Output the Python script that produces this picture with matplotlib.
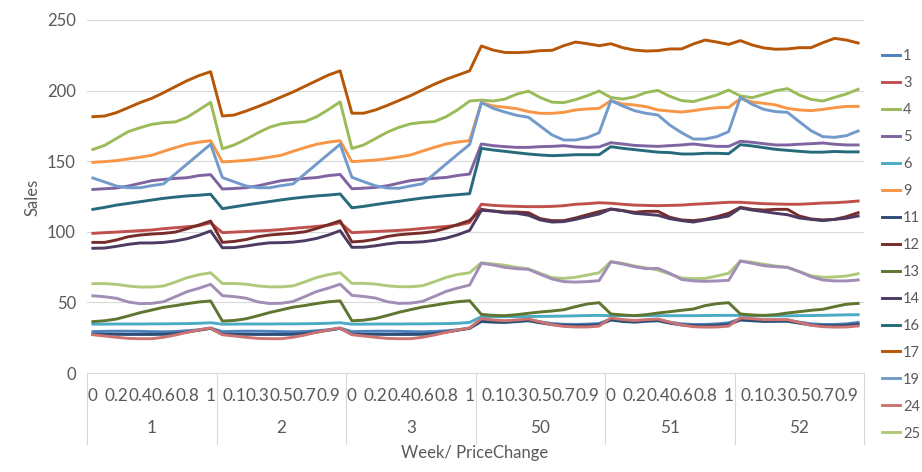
import numpy as np
import matplotlib
matplotlib.use("Agg")
import matplotlib.pyplot as plt
import matplotlib.transforms as mtransforms

plt.rcParams['font.family'] = ['Lato', 'DejaVu Sans']

weeks = ["1", "2", "3", "50", "51", "52"]
price_changes = ["0", "0.1", "0.2", "0.3", "0.4", "0.5", "0.6", "0.7", "0.8", "0.9", "1"]

s1 = [29.3, 29.5, 29.6, 29.6, 29.5, 29.3, 29.2, 29.4, 29.9, 30.6, 31.8,
      29.3, 29.5, 29.6, 29.6, 29.5, 29.3, 29.2, 29.4, 29.9, 30.6, 31.8,
      29.3, 29.5, 29.6, 29.6, 29.5, 29.3, 29.2, 29.4, 29.9, 30.6, 31.8,
      37.8, 37.0, 36.6, 37.2, 37.8, 36.2, 35.0, 34.5, 34.4, 34.6, 35.0,
      38.3, 37.2, 36.8, 37.4, 37.8, 36.0, 34.8, 34.4, 34.4, 34.8, 35.5,
      38.3, 37.8, 37.2, 37.4, 37.4, 36.0, 34.8, 34.4, 34.4, 34.8, 35.8]
s3 = [98.9, 99.4, 99.8, 100.3, 100.8, 101.3, 102.2, 102.9, 103.6, 104.3, 106.4,
      99.4, 99.8, 100.2, 100.6, 101.0, 101.6, 102.4, 103.1, 103.8, 104.6, 106.5,
      99.4, 99.8, 100.2, 100.6, 101.0, 101.6, 102.4, 103.1, 103.8, 104.6, 106.5,
      119.5, 118.7, 118.3, 118.0, 117.8, 117.8, 118.0, 118.5, 119.5, 119.9, 120.6,
      120.2, 119.5, 118.9, 118.7, 118.5, 118.7, 118.9, 119.5, 119.9, 120.4, 120.9,
      120.9, 120.4, 119.9, 119.7, 119.5, 119.5, 119.9, 120.4, 120.6, 121.1, 121.8]
s4 = [158.3, 161.2, 166.1, 170.9, 173.7, 176.1, 177.3, 177.8, 181.1, 186.3, 191.7,
      158.8, 161.5, 165.5, 170.0, 174.0, 176.5, 177.5, 178.0, 181.5, 186.5, 192.0,
      159.0, 161.5, 166.0, 170.5, 174.0, 176.5, 177.5, 178.0, 181.5, 186.5, 192.6,
      193.3, 192.6, 194.0, 197.5, 199.6, 195.1, 191.8, 191.5, 193.6, 196.4, 199.7,
      195.1, 194.0, 195.6, 198.7, 200.1, 196.0, 192.9, 192.2, 194.5, 196.9, 200.4,
      196.2, 195.0, 197.4, 199.9, 201.4, 196.9, 193.8, 192.6, 195.2, 197.6, 200.9]
s5 = [130.0, 130.5, 131.0, 132.4, 134.3, 136.2, 137.1, 137.8, 138.3, 139.8, 140.5,
      130.3, 130.7, 131.2, 132.5, 134.4, 136.2, 137.1, 137.8, 138.4, 139.8, 140.6,
      130.5, 130.9, 131.4, 132.6, 134.5, 136.3, 137.2, 137.9, 138.5, 139.9, 140.9,
      162.2, 161.0, 160.3, 159.8, 159.8, 160.3, 160.5, 161.0, 160.1, 159.8, 160.1,
      163.1, 162.2, 161.2, 160.8, 160.5, 161.0, 161.5, 162.2, 161.2, 160.5, 160.5,
      164.1, 163.4, 162.4, 161.5, 161.5, 162.0, 162.4, 162.9, 162.0, 161.5, 161.5]
s6 = [34.6, 34.6, 34.7, 34.7, 34.7, 34.8, 34.8, 34.9, 35.0, 35.2, 35.6,
      34.6, 34.6, 34.7, 34.7, 34.7, 34.8, 34.8, 34.9, 35.0, 35.2, 35.6,
      34.6, 34.6, 34.7, 34.7, 34.7, 34.8, 34.8, 34.9, 35.0, 35.2, 35.8,
      39.9, 39.9, 39.9, 40.0, 40.0, 40.1, 40.2, 40.3, 40.5, 40.7, 40.8,
      40.6, 40.6, 40.6, 40.6, 40.6, 40.6, 40.6, 40.6, 40.7, 40.8, 40.8,
      40.8, 40.6, 40.5, 40.5, 40.5, 40.6, 40.7, 40.8, 41.0, 41.2, 41.3]
s9 = [149.2, 149.7, 150.4, 151.6, 152.8, 154.2, 157.0, 159.6, 162.0, 163.5, 164.5,
      149.5, 150.0, 150.6, 151.6, 152.8, 154.2, 157.0, 159.6, 162.0, 163.5, 164.5,
      149.7, 150.2, 150.8, 151.8, 153.0, 154.4, 157.2, 159.8, 162.2, 163.6, 164.6,
      191.5, 189.1, 188.2, 187.2, 185.1, 183.9, 183.9, 184.6, 186.3, 187.0, 187.4,
      192.9, 190.5, 189.8, 188.6, 186.3, 185.5, 184.8, 185.8, 187.0, 187.9, 188.1,
      194.3, 191.9, 191.0, 189.8, 187.4, 186.3, 185.8, 186.7, 187.9, 188.8, 188.8]
s11 = [27.4, 27.4, 27.4, 27.3, 27.3, 27.3, 27.4, 27.9, 29.0, 30.3, 31.6,
       27.4, 27.4, 27.4, 27.3, 27.3, 27.3, 27.4, 27.9, 29.0, 30.3, 31.6,
       27.4, 27.4, 27.4, 27.3, 27.3, 27.3, 27.4, 27.9, 29.0, 30.3, 31.6,
       36.5, 36.0, 35.8, 36.4, 37.0, 35.5, 34.3, 33.8, 33.6, 33.8, 34.2,
       37.5, 36.5, 36.0, 36.6, 37.0, 35.3, 34.0, 33.6, 33.5, 33.8, 34.3,
       37.5, 37.0, 36.5, 36.6, 36.6, 35.3, 34.0, 33.6, 33.5, 33.8, 34.5]
s12 = [92.5, 92.5, 94.2, 96.5, 97.7, 98.4, 98.9, 99.8, 102.2, 104.8, 107.6,
       92.5, 93.2, 94.5, 96.5, 97.7, 98.4, 99.0, 100.0, 102.3, 105.0, 107.8,
       92.8, 93.4, 94.7, 96.7, 97.9, 98.6, 99.2, 100.2, 102.5, 105.2, 108.0,
       115.9, 114.7, 114.0, 114.0, 113.5, 109.3, 107.9, 107.9, 109.8, 112.1, 114.3,
       116.1, 115.0, 113.8, 114.5, 114.5, 110.3, 108.4, 107.9, 108.8, 110.7, 113.1,
       117.3, 115.9, 115.4, 115.9, 115.9, 111.2, 109.1, 108.4, 108.8, 110.7, 113.5]
s13 = [36.4, 37.0, 38.2, 40.4, 42.7, 44.6, 46.5, 47.7, 49.1, 50.3, 51.0,
       36.8, 37.2, 38.4, 40.5, 42.8, 44.7, 46.6, 47.8, 49.2, 50.4, 51.1,
       37.0, 37.4, 38.6, 40.7, 43.0, 44.9, 46.7, 48.0, 49.4, 50.5, 51.2,
       41.5, 40.8, 40.6, 41.3, 42.3, 43.2, 43.9, 44.8, 47.0, 48.9, 49.8,
       41.8, 41.1, 40.6, 41.3, 42.5, 43.4, 44.4, 45.3, 47.7, 49.1, 49.8,
       41.8, 41.1, 40.8, 41.3, 42.5, 43.4, 44.4, 45.1, 47.0, 48.7, 49.3]
s14 = [88.3, 88.5, 89.7, 91.1, 92.1, 92.1, 92.5, 93.5, 95.1, 97.5, 100.6,
       88.7, 88.8, 89.9, 91.2, 92.2, 92.3, 92.7, 93.7, 95.3, 97.7, 100.8,
       89.0, 89.1, 90.1, 91.4, 92.4, 92.5, 92.9, 93.9, 95.5, 97.9, 101.0,
       115.2, 114.7, 113.5, 113.1, 111.7, 108.4, 106.9, 107.2, 108.8, 110.7, 112.6,
       116.1, 115.0, 113.1, 112.4, 111.7, 109.3, 107.9, 106.9, 108.4, 109.6, 111.2,
       116.9, 115.4, 114.3, 113.1, 112.1, 109.8, 108.8, 107.9, 108.8, 109.6, 111.2]
s16 = [115.9, 117.3, 118.9, 120.1, 121.3, 122.5, 123.7, 124.6, 125.4, 125.9, 126.6,
       116.4, 117.7, 119.0, 120.2, 121.4, 122.6, 123.7, 124.6, 125.4, 126.0, 126.8,
       117.0, 118.0, 119.3, 120.5, 121.6, 122.8, 123.9, 124.8, 125.6, 126.3, 127.0,
       159.1, 157.9, 157.0, 156.0, 155.1, 154.4, 153.9, 154.2, 154.6, 154.6, 154.6,
       160.3, 159.1, 158.2, 157.3, 156.4, 156.1, 155.1, 155.1, 155.6, 155.6, 155.3,
       161.7, 160.8, 159.6, 158.4, 157.7, 157.0, 156.4, 156.4, 156.9, 156.6, 156.6]
s17 = [181.5, 182.0, 184.4, 187.9, 191.5, 194.5, 198.5, 202.8, 207.0, 210.6, 213.4,
       182.0, 182.7, 185.5, 188.6, 191.9, 195.5, 199.0, 203.0, 207.0, 211.0, 214.0,
       184.0, 184.0, 186.3, 189.5, 193.0, 196.5, 200.5, 204.5, 208.0, 211.0, 214.0,
       231.6, 228.7, 227.0, 226.9, 227.3, 228.3, 228.5, 231.8, 234.4, 233.2, 231.8,
       233.2, 230.4, 228.7, 228.0, 228.3, 229.5, 229.5, 233.0, 235.8, 234.4, 232.7,
       235.4, 232.3, 230.2, 229.3, 229.5, 230.4, 230.4, 233.9, 237.0, 235.8, 233.7]
s19 = [138.1, 135.3, 132.4, 131.2, 131.2, 132.7, 133.9, 141.0, 148.0, 155.0, 162.0,
       138.4, 135.4, 132.5, 131.2, 131.2, 132.7, 133.9, 141.0, 148.0, 155.0, 162.0,
       138.6, 135.5, 132.6, 131.0, 130.8, 132.5, 134.0, 141.0, 148.0, 155.0, 161.8,
       191.5, 187.4, 184.8, 182.5, 181.1, 174.9, 168.6, 165.0, 165.0, 166.7, 170.2,
       192.9, 189.1, 185.8, 183.9, 182.7, 175.6, 170.2, 165.7, 165.7, 167.4, 170.9,
       195.2, 190.3, 186.7, 185.1, 184.6, 178.0, 171.6, 167.4, 166.9, 168.1, 171.4]
s24 = [27.1, 26.2, 25.3, 24.5, 24.3, 24.3, 25.3, 26.9, 28.8, 30.5, 31.9,
       27.1, 26.2, 25.3, 24.5, 24.3, 24.3, 25.3, 26.9, 28.8, 30.5, 31.9,
       27.1, 26.2, 25.3, 24.5, 24.3, 24.3, 25.3, 26.9, 28.8, 30.5, 31.9,
       38.5, 37.6, 37.0, 37.6, 38.3, 36.2, 34.2, 33.0, 32.6, 32.6, 33.2,
       39.0, 37.8, 37.2, 37.8, 38.2, 36.0, 34.0, 32.8, 32.5, 32.6, 33.2,
       39.0, 38.5, 37.8, 37.8, 37.8, 35.8, 33.8, 32.8, 32.5, 32.6, 33.3]
s25 = [63.3, 63.3, 62.8, 61.6, 60.9, 60.9, 61.6, 64.4, 67.5, 69.6, 71.0,
       63.4, 63.4, 62.9, 61.7, 61.0, 61.0, 61.7, 64.5, 67.6, 69.7, 71.1,
       63.5, 63.5, 63.0, 61.8, 61.1, 61.1, 61.8, 64.6, 67.7, 69.8, 71.0,
       78.1, 77.2, 76.3, 74.8, 73.7, 70.6, 67.5, 67.0, 67.8, 69.4, 71.0,
       78.8, 77.7, 75.8, 74.4, 72.9, 70.1, 67.3, 66.8, 67.0, 68.7, 70.6,
       79.3, 78.4, 77.0, 75.8, 74.8, 71.8, 68.9, 67.8, 68.0, 68.7, 70.3]
# 16th series, drawn but not shown in the (truncated) legend
s_extra = [54.7, 54.0, 52.9, 50.3, 49.1, 49.3, 50.5, 54.0, 57.6, 60.0, 62.8,
           54.8, 54.1, 53.0, 50.4, 49.2, 49.4, 50.6, 54.1, 57.7, 60.1, 62.9,
           55.0, 54.2, 53.1, 50.5, 49.3, 49.5, 50.7, 54.2, 57.8, 60.2, 62.3,
           77.7, 76.5, 74.8, 73.9, 73.4, 69.9, 66.6, 64.7, 64.4, 64.7, 65.4,
           78.8, 77.2, 75.3, 73.9, 74.1, 70.6, 66.3, 65.2, 64.9, 65.2, 65.6,
           79.3, 77.7, 76.0, 75.3, 74.8, 71.8, 68.2, 65.9, 65.2, 65.2, 65.9]

series_names = ["1", "3", "4", "5", "6", "9", "11", "12", "13", "14", "16", "17", "19", "24", "25"]
series_values = [s1, s3, s4, s5, s6, s9, s11, s12, s13, s14, s16, s17, s19, s24, s25]
colors = ["#4F81BD", "#C0504D", "#9BBB59", "#8064A2", "#4BACC6", "#F79646",
          "#2C4D75", "#772C2A", "#5F7530", "#4D3B62", "#276A7C", "#B65708",
          "#729ACA", "#CD7371", "#AFC97A"]
extra_color = "#A18DB5"

n_pc = len(price_changes)
n = len(weeks) * n_pc
x = np.arange(n)

fig = plt.figure(figsize=(9.22, 4.72), dpi=100)
ax = fig.add_axes([87/922, 1 - 373/472, (864-87)/922, (373-20)/472])

handles = []
for name, vals, c in zip(series_names, series_values, colors):
    h, = ax.plot(x, vals, color=c, lw=2.1, label=name, solid_joinstyle='round')
    handles.append(h)
ax.plot(x, s_extra, color=extra_color, lw=2.1, label='_nolegend_', solid_joinstyle='round')

ax.set_xlim(-0.5, n - 0.5)
ax.set_ylim(0, 250)
ax.set_yticks(np.arange(0, 251, 50))
ax.yaxis.grid(True, color="#D9D9D9", lw=0.8)
ax.set_axisbelow(True)
for s in ["top", "right", "left"]:
    ax.spines[s].set_visible(False)
ax.spines["bottom"].set_color("#D9D9D9")
ax.tick_params(axis='y', length=0, labelsize=12, labelcolor="#595959", pad=8)
ax.tick_params(axis='x', length=0)
ax.set_xticks([])

# multi-level category axis
trans = mtransforms.blended_transform_factory(ax.transData, ax.transAxes)
ax_h = 353.0
for i in range(0, n, 2):
    ax.text(i, -(396 - 373) / ax_h, price_changes[i % n_pc], transform=trans,
            ha='center', va='center', fontsize=12.3, color="#595959")
for k, w in enumerate(weeks):
    ax.text(k * n_pc + (n_pc - 1) / 2, -(428 - 373) / ax_h, w, transform=trans,
            ha='center', va='center', fontsize=12.3, color="#595959")
for k in range(len(weeks) + 1):
    xs = k * n_pc - 0.5
    ax.plot([xs, xs], [0, -(444 - 373) / ax_h], transform=trans, color="#D9D9D9",
            lw=0.8, clip_on=False)

fig.text(475/922, 1 - 453/472, "Week/ PriceChange", ha='center', va='center',
         fontsize=12, color="#595959")
fig.text(32/922, 1 - 197/472, "Sales", ha='center', va='center', rotation=90,
         fontsize=12, color="#595959")

leg = fig.legend(handles=handles, loc='upper left', bbox_to_anchor=(876/922, 1 - 43/472),
                 frameon=False, fontsize=10.5, handlelength=1.25, handletextpad=0.2,
                 labelspacing=0.89, borderaxespad=0)
for t in leg.get_texts():
    t.set_color("#595959")

fig.savefig("out.png", dpi=100)
